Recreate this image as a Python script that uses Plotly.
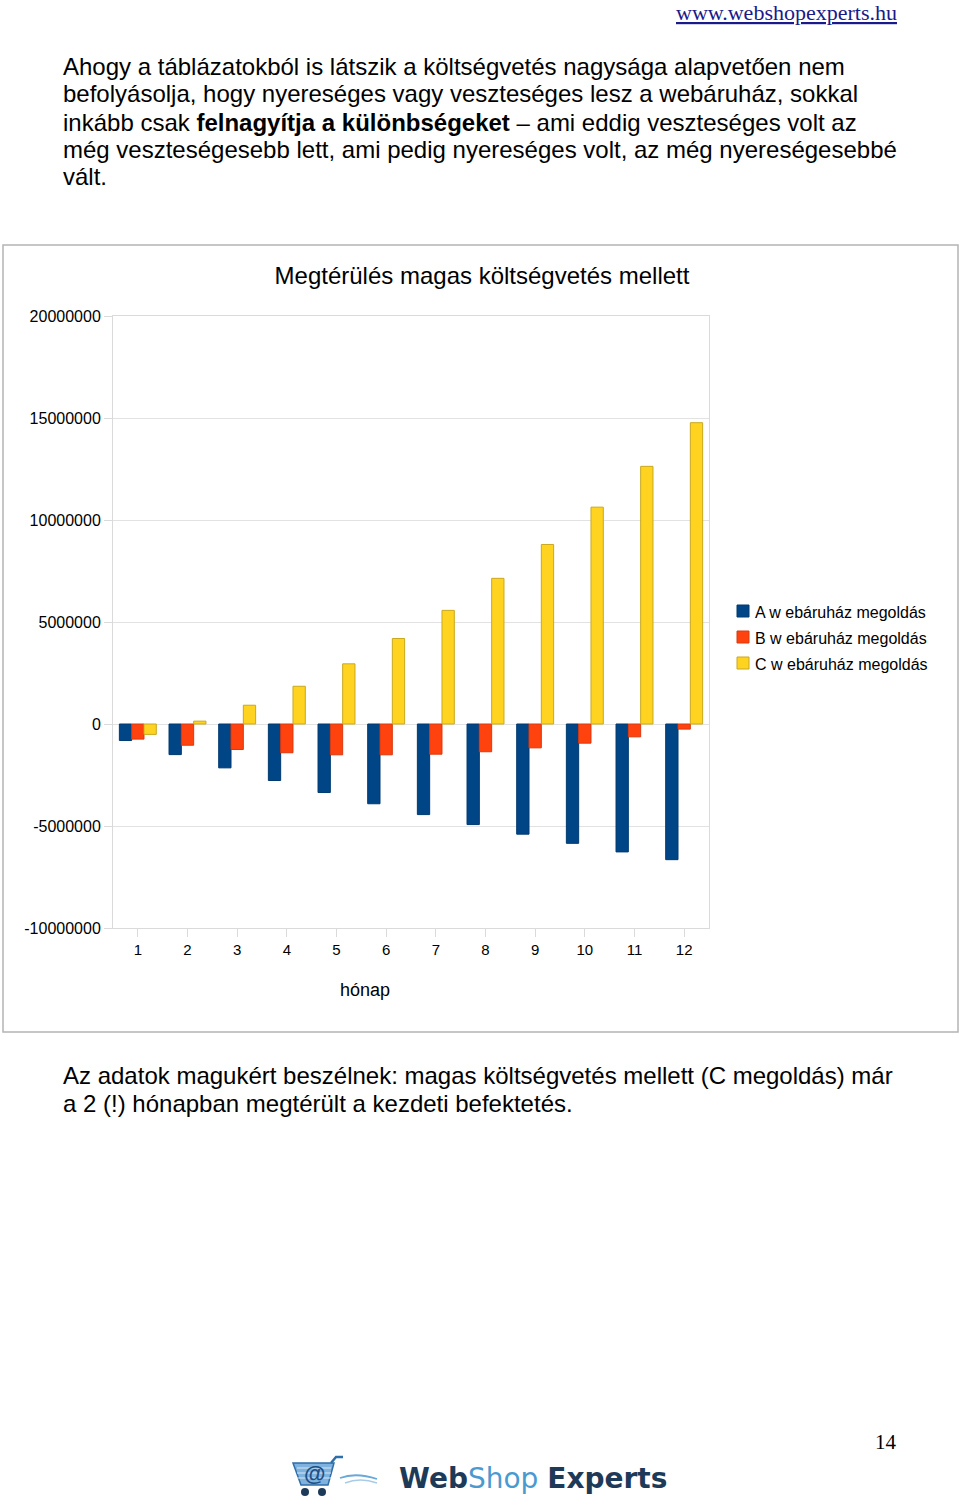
import plotly.graph_objects as go

# ---- data ----
months = ["1", "2", "3", "4", "5", "6", "7", "8", "9", "10", "11", "12"]
series_names = ["A w ebáruház megoldás", "B w ebáruház megoldás", "C w ebáruház megoldás"]
values_a = [-810000, -1500000, -2150000, -2770000, -3360000, -3910000,
            -4440000, -4930000, -5400000, -5850000, -6270000, -6650000]
values_b = [-740000, -1040000, -1250000, -1410000, -1510000, -1510000,
            -1480000, -1360000, -1170000, -940000, -630000, -250000]
values_c = [-510000, 140000, 920000, 1850000, 2950000, 4190000,
            5570000, 7140000, 8800000, 10630000, 12630000, 14770000]
y_tickvals = [-10000000, -5000000, 0, 5000000, 10000000, 15000000, 20000000]
y_ticktext = ["-10000000", "-5000000", "0", "5000000", "10000000", "15000000", "20000000"]

chart_title = "Megtérülés magas költségvetés mellett"
x_title = "hónap"
para1 = [
    "Ahogy a táblázatokból is látszik a költségvetés nagysága alapvetően nem",
    "befolyásolja, hogy nyereséges vagy veszteséges lesz a webáruház, sokkal",
    "inkább csak <b>felnagyítja a különbségeket</b> – ami eddig veszteséges volt az",
    "még veszteségesebb lett, ami pedig nyereséges volt, az még nyereségesebbé",
    "vált.",
]
para2 = [
    "Az adatok magukért beszélnek: magas költségvetés mellett (C megoldás) már",
    "a 2 (!) hónapban megtérült a kezdeti befektetés.",
]

# ---- layout helpers (pixel -> paper) ----
W, H = 960, 1506
PL, PR, PT, PB = 113, 709, 316, 928


def px(x):
    return (x - PL) / (PR - PL)


def py(y):
    return (PB - y) / (PB - PT)


SANS = "Liberation Sans, Arial, sans-serif"
SERIF = "Liberation Serif, Times New Roman, serif"

fills = ["#004586", "#ff420e", "#ffd320"]
lines = ["#003a70", "#d93a10", "#c9a820"]

fig = go.Figure()
for i, (name, vals) in enumerate(zip(series_names, [values_a, values_b, values_c])):
    fig.add_trace(go.Bar(
        x=months, y=vals, name=name, showlegend=False,
        marker=dict(color=fills[i], line=dict(color=lines[i], width=1)),
        hoverinfo="skip",
    ))


def note(text, x, y, xanchor="left", size=24, family=SANS, color="#000"):
    return dict(text=text, x=px(x), y=py(y), xref="paper", yref="paper",
                xanchor=xanchor, yanchor="middle", showarrow=False,
                font=dict(family=family, size=size, color=color))


def box(x0, y0, x1, y1, fill, line, width=1):
    return dict(type="rect", xref="paper", yref="paper",
                x0=px(x0), x1=px(x1), y0=py(y1), y1=py(y0),
                fillcolor=fill, line=dict(color=line, width=width))


ann = []
for k, t in enumerate(para1):
    ann.append(note(t, 61, [67, 94, 122, 149, 177][k]))
for k, t in enumerate(para2):
    ann.append(note(t, 61, [1075, 1103][k]))
ann.append(note("<u>www.webshopexperts.hu</u>", 899, 12, "right", 22, SERIF, "#1a1a8a"))
ann.append(note("14", 899, 1442, "right", 21, SERIF))
ann.append(note(x_title, 365, 990, "center", 18))

# legend (drawn manually to match the original placement)
legend_y = [611, 637, 663]
shapes = []
for i, name in enumerate(series_names):
    shapes.append(box(737, legend_y[i] - 6, 749, legend_y[i] + 6, fills[i], lines[i]))
    ann.append(note(name, 753, legend_y[i] + 1, "left", 16))

# chart frame
shapes.append(dict(type="rect", xref="paper", yref="paper", x0=px(3), x1=px(958),
                   y0=py(1032), y1=py(245), line=dict(color="#b4b4b4", width=1.5),
                   fillcolor="rgba(0,0,0,0)", layer="below"))

# logo (cart + text)
shapes.append(dict(type="path", xref="paper", yref="paper",
                   path=(f"M {px(293)},{py(1463)} L {px(334)},{py(1463)} L {px(328)},{py(1485)} "
                         f"L {px(301)},{py(1485)} Z"),
                   fillcolor="#7fb2de", line=dict(color="#2f6ea8", width=1.5)))
shapes.append(dict(type="path", xref="paper", yref="paper",
                   path=f"M {px(331)},{py(1463)} L {px(336)},{py(1457)} L {px(343)},{py(1457)}",
                   line=dict(color="#2f6ea8", width=2.5)))
for yy in (1468, 1473, 1478):
    shapes.append(dict(type="line", xref="paper", yref="paper", x0=px(297), x1=px(331),
                       y0=py(yy), y1=py(yy), line=dict(color="#d6e8f6", width=1)))
shapes.append(dict(type="path", xref="paper", yref="paper",
                   path=f"M {px(340)},{py(1478)} Q {px(356)},{py(1472)} {px(377)},{py(1479)}",
                   line=dict(color="#6aa8d8", width=1.8)))
shapes.append(dict(type="path", xref="paper", yref="paper",
                   path=f"M {px(345)},{py(1483)} Q {px(360)},{py(1477)} {px(377)},{py(1483)}",
                   line=dict(color="#a8cce8", width=1.4)))
for cx in (305, 322):
    shapes.append(dict(type="circle", xref="paper", yref="paper", x0=px(cx - 4), x1=px(cx + 4),
                       y0=py(1496), y1=py(1488), fillcolor="#1d3a58", line=dict(width=0)))
ann.append(note("<b>@</b>", 314, 1473, "center", 22, SANS, "#1d4f86"))
ann.append(note("<b>Web</b><span style='color:#4a9ad0'>Shop</span> <b>Experts</b>",
                397, 1478, "left", 28, "DejaVu Sans, sans-serif", "#1d3a58"))

fig.update_layout(
    width=W, height=H,
    margin=dict(l=PL, r=W - PR, t=PT, b=H - PB, pad=0),
    paper_bgcolor="white", plot_bgcolor="white",
    barmode="group", bargap=0.256, bargroupgap=0,
    showlegend=False,
    title=dict(text=chart_title, x=482 / W, y=1 - 276 / H, xref="container", yref="container",
               xanchor="center", yanchor="middle",
               font=dict(family=SANS, size=24, color="#000")),
    font=dict(family=SANS, color="#000"),
    annotations=ann, shapes=shapes,
    xaxis=dict(type="category", showgrid=False, showline=True, mirror=True,
               linecolor="#dadada", linewidth=1, ticks="outside", ticklen=8,
               tickcolor="#dadada", tickfont=dict(family=SANS, size=15, color="#000"),
               zeroline=False),
    yaxis=dict(range=[-10000000, 20000000], tickvals=y_tickvals, ticktext=y_ticktext,
               showgrid=True, gridcolor="#e2e2e2", gridwidth=1,
               showline=True, mirror=True, linecolor="#dadada", linewidth=1,
               ticks="outside", ticklen=8, tickcolor="#dadada",
               tickfont=dict(family=SANS, size=16, color="#000"),
               zeroline=True, zerolinecolor="#e2e2e2", zerolinewidth=1),
)

fig.write_html("out.html", config={"displayModeBar": False},
               post_script="document.body.style.margin='0';document.body.style.padding='0';")
